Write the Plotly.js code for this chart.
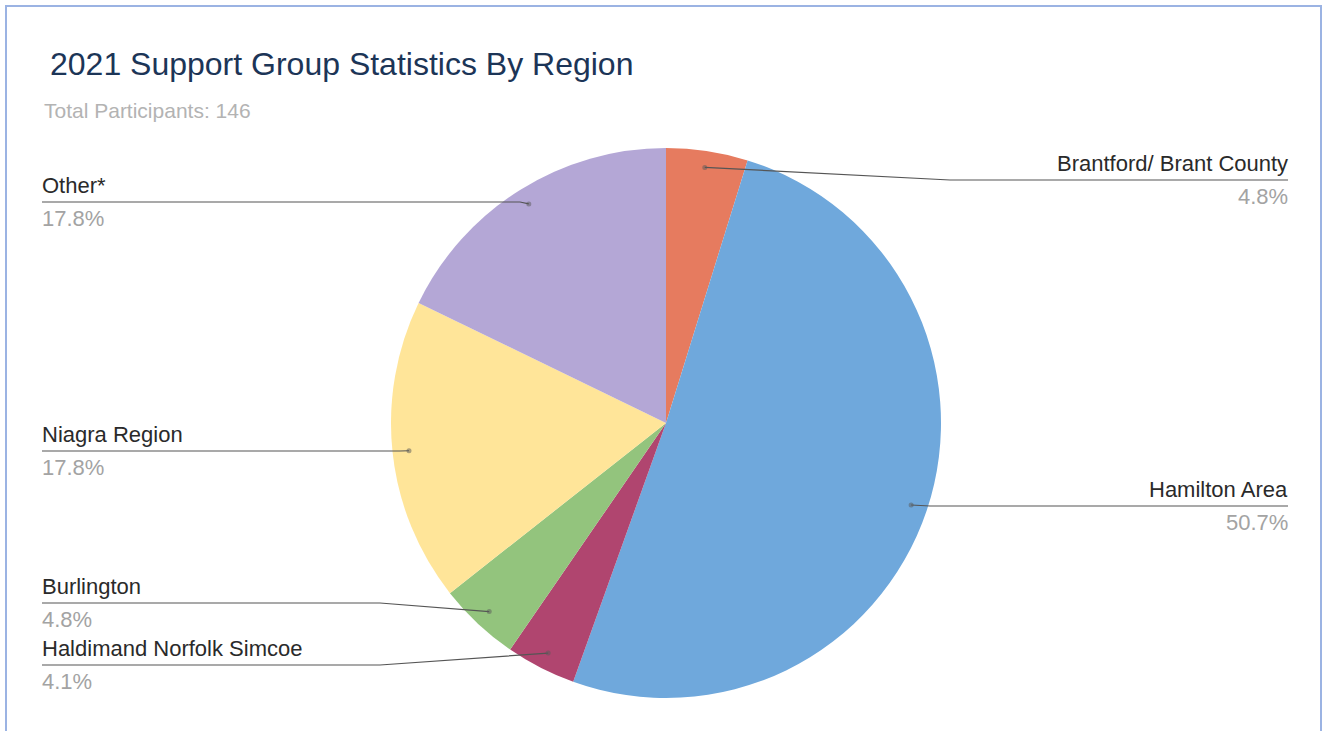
<!DOCTYPE html>
<html><head><meta charset="utf-8">
<script src="https://cdn.plot.ly/plotly-3.0.1.min.js"></script>
<style>
html,body{margin:0;padding:0;background:#fff;}
#chart{width:1325px;height:731px;}
</style>
</head><body><div id="chart"></div>
<script>
// ---- data ----
const categories = ["Brantford/ Brant County", "Hamilton Area", "Haldimand Norfolk Simcoe", "Burlington", "Niagra Region", "Other*"];
const counts = [7, 74, 6, 7, 26, 26];
const percentLabels = ["4.8%", "50.7%", "4.1%", "4.8%", "17.8%", "17.8%"];
const colors = ["#E67B5F", "#6FA8DC", "#B0456F", "#93C47D", "#FFE599", "#B4A7D6"];
const chartTitle = "2021 Support Group Statistics By Region";
const subtitle = "Total Participants: 146";

// ---- layout geometry (pixels) ----
const W = 1325, H = 731;
const cx = 666, cy = 423, R = 275;
// label placement per slice: side, horizontal line y, elbow x, text edge x
const labelSide = ["right", "right", "left", "left", "left", "left"];
const labelLineY = [180, 506, 665, 603, 451, 202];
const labelElbowX = [950, 930, 380, 380, 400, 520];
const labelEdgeX = [1288, 1288, 42, 42, 42, 42];

const px = x => x / W;
const py = y => 1 - y / H;
const FONT = "Liberation Sans, Arial, sans-serif";

const total = counts.reduce((a, b) => a + b, 0);
const shapes = [];
const annotations = [];
let cum = 0;
counts.forEach((v, i) => {
  const mid = (cum + v / 2) / total * 2 * Math.PI;
  cum += v;
  const f = 0.94;
  const dx = cx + f * R * Math.sin(mid);
  const dy = cy - f * R * Math.cos(mid);
  const ly = labelLineY[i];
  shapes.push({type: "path", xref: "paper", yref: "paper",
    path: `M ${px(dx)} ${py(dy)} L ${px(labelElbowX[i])} ${py(ly)} L ${px(labelEdgeX[i])} ${py(ly)}`,
    line: {color: "#555555", width: 1.2}});
  shapes.push({type: "circle", xref: "paper", yref: "paper",
    x0: px(dx - 2.5), x1: px(dx + 2.5), y0: py(dy + 2.5), y1: py(dy - 2.5),
    fillcolor: "rgba(90,90,90,0.5)", line: {width: 0}});
  const anchor = labelSide[i] === "right" ? "right" : "left";
  annotations.push({xref: "paper", yref: "paper", x: px(labelEdgeX[i] + (anchor === "left" ? -2 : 2)), y: py(ly - 2),
    xanchor: anchor, yanchor: "bottom", showarrow: false, text: categories[i],
    font: {family: FONT, size: 22, color: "#2a2a2a"}});
  annotations.push({xref: "paper", yref: "paper", x: px(labelEdgeX[i] + (anchor === "left" ? -2 : 2)), y: py(ly + 2),
    xanchor: anchor, yanchor: "top", showarrow: false, text: percentLabels[i],
    font: {family: FONT, size: 22, color: "#a3a3a3"}});
});

annotations.push({xref: "paper", yref: "paper", x: px(42), y: py(97), xanchor: "left", yanchor: "top",
  showarrow: false, text: subtitle,
  font: {family: FONT, size: 21, color: "#b3b3b3"}});

// outer border
shapes.push({type: "rect", xref: "paper", yref: "paper", x0: px(6), x1: px(1321), y0: py(745), y1: py(6),
  line: {color: "#9BB3E3", width: 2}});

const trace = {
  type: "pie", labels: categories, values: counts, sort: false, direction: "clockwise", rotation: 0,
  marker: {colors: colors, line: {width: 0}}, textinfo: "none", hoverinfo: "label+percent",
  domain: {x: [px(cx - R), px(cx + R)], y: [py(cy + R), py(cy - R)]}
};

Plotly.newPlot("chart", [trace], {
  width: W, height: H, margin: {l: 0, r: 0, t: 0, b: 0},
  paper_bgcolor: "#ffffff", showlegend: false,
  title: {text: chartTitle, x: px(50), xanchor: "left", xref: "paper", y: py(64), yanchor: "middle", yref: "container",
    font: {family: FONT, size: 32, color: "#1C3557"}},
  shapes: shapes, annotations: annotations
}, {displayModeBar: false, staticPlot: true});
</script></body></html>
